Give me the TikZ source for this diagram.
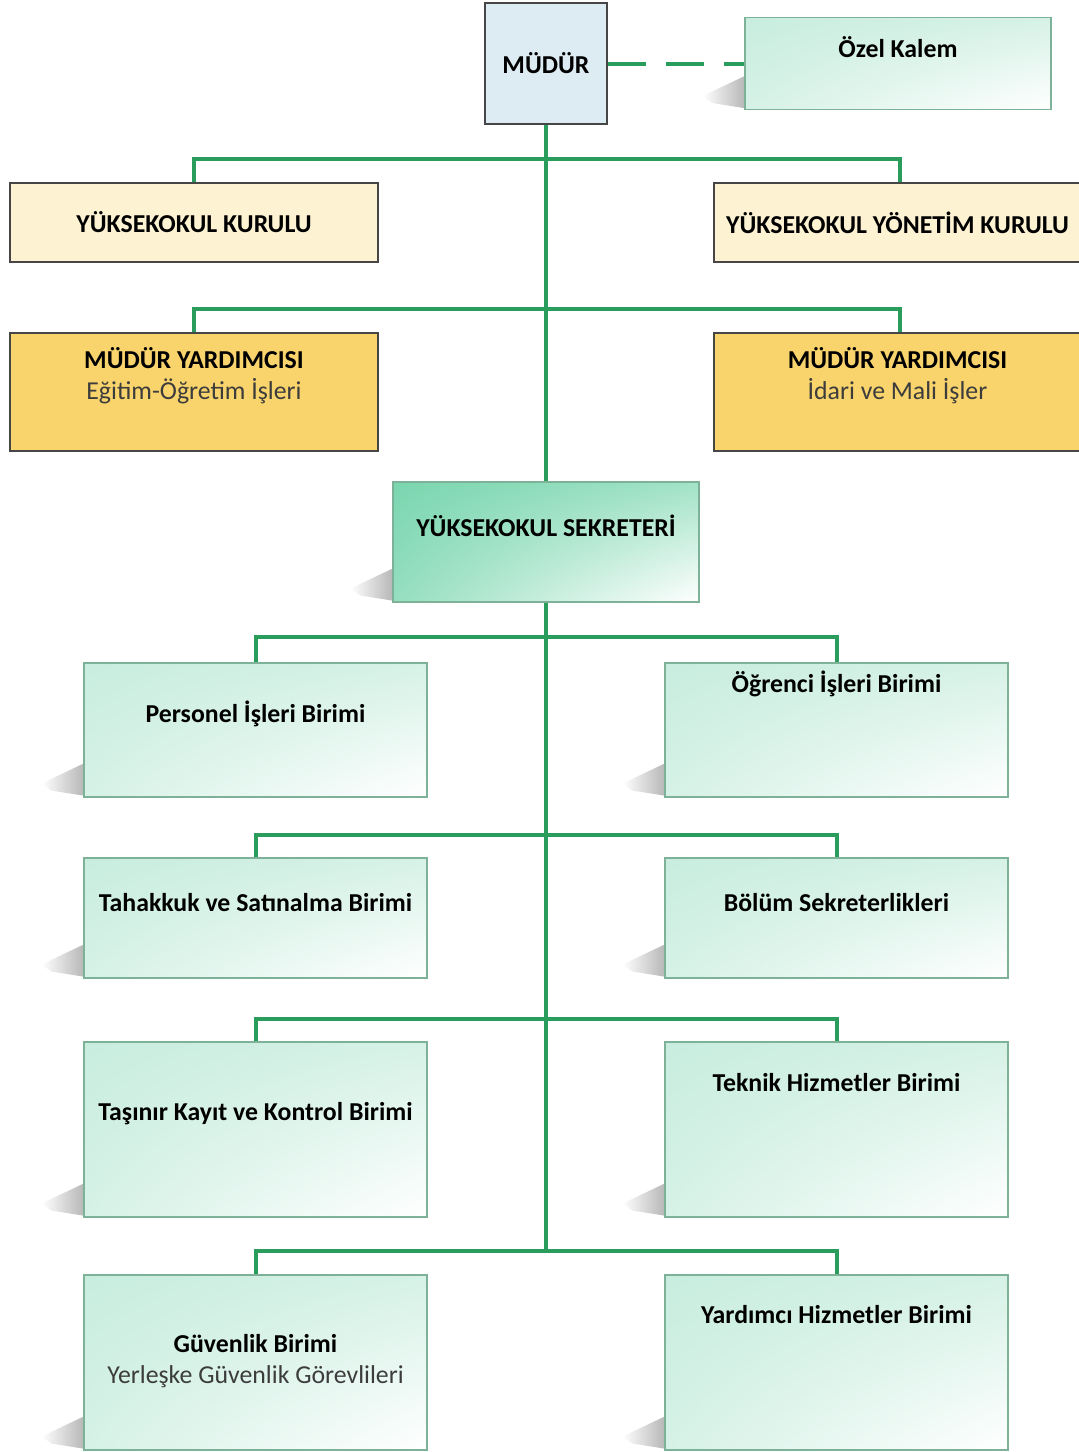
\documentclass[tikz,border=0pt]{standalone}
\usepackage{fontspec}
\setmainfont{Carlito}
\usepackage{tikz}
\usetikzlibrary{backgrounds, calc, positioning, shadings}
\definecolor{linkgreen}{RGB}{42,157,92}
\definecolor{boxline}{RGB}{70,70,70}
\definecolor{chiefblue}{RGB}{221,235,243}
\definecolor{boardcream}{RGB}{253,242,210}
\definecolor{deputygold}{RGB}{249,211,107}
\definecolor{unitgreen}{RGB}{200,237,222}
\definecolor{unitline}{RGB}{125,178,152}
\definecolor{secgreen}{RGB}{122,214,175}
\definecolor{subgray}{RGB}{60,60,60}

\begin{document}
\begin{tikzpicture}[x=0.5pt, y=-0.5pt,
  chief/.style={draw=boxline, fill=chiefblue, line width=0.6pt, minimum width=61pt, minimum height=60.5pt},
  board/.style={draw=boxline, fill=boardcream, line width=0.6pt, minimum width=184pt, minimum height=39.5pt},
  deputy/.style={draw=boxline, fill=deputygold, line width=0.6pt, minimum width=184pt, minimum height=59pt},
  unit/.style={draw=unitline, line width=0.6pt, upper left=unitgreen, upper right=unitgreen!75!white,
    lower left=unitgreen!75!white, lower right=white, minimum width=171.5pt},
  txt/.style={font=\fontsize{12.9}{15.5}\selectfont\bfseries, align=center, inner sep=0pt},
  link/.style={draw=linkgreen, line width=2pt},
]
\useasboundingbox (0,0) rectangle (1079,1452);

% top
\node (mudur) [chief, txt] at (546,63.5) {MÜDÜR};
\node (ozel) [unit, minimum width=153pt, minimum height=46pt] at (898,63.5) {};
\node (ozel-t) [txt] at ([yshift=-15pt]ozel.north) {Özel Kalem};

% boards
\node (ykk) [board] at (194,222.5) {};
\node (ykk-t) [txt] at (ykk) {YÜKSEKOKUL KURULU};
\node (yyk) [board, minimum width=185.5pt] at (899.5,222.5) {};
\node (yyk-t) [txt] at ([xshift=-1pt]yyk.center) {YÜKSEKOKUL YÖNETİM KURULU};

% deputies
\node (myd1) [deputy] at (194,392) {};
\node (myd1-t) [txt] at ([yshift=-21.5pt]myd1.north) {MÜDÜR YARDIMCISI\\{\mdseries\color{subgray}Eğitim-Öğretim İşleri}};
\node (myd2) [deputy, minimum width=185.5pt] at (899.5,392) {};
\node (myd2-t) [txt] at ([yshift=-21.5pt,xshift=-1pt]myd2.north) {MÜDÜR YARDIMCISI\\{\mdseries\color{subgray}İdari ve Mali İşler}};

% secretary
\node (sek) [unit, upper left=secgreen, upper right=secgreen!70!white, lower left=secgreen!80!white,
  lower right=white, minimum width=153pt, minimum height=60pt] at (546,542) {};
\node (sek-t) [txt] at ([yshift=-22pt]sek.north) {YÜKSEKOKUL SEKRETERİ};

% units
\node (pib) [unit, minimum height=67pt] at (255.5,730) {};
\node (pib-t) [txt] at ([yshift=-25.5pt]pib.north) {Personel İşleri Birimi};
\node (oib) [unit, minimum height=67pt] at (836.5,730) {};
\node (oib-t) [txt] at ([yshift=-10.5pt]oib.north) {Öğrenci İşleri Birimi};

\node (tsb) [unit, minimum height=60pt] at (255.5,918) {};
\node (tsb-t) [txt] at ([yshift=-22.5pt]tsb.north) {Tahakkuk ve Satınalma Birimi};
\node (bs) [unit, minimum height=60pt] at (836.5,918) {};
\node (bs-t) [txt] at ([yshift=-22.5pt]bs.north) {Bölüm Sekreterlikleri};

\node (tkk) [unit, minimum height=87.5pt] at (255.5,1129.5) {};
\node (tkk-t) [txt] at ([yshift=-36pt]tkk.north) {Taşınır Kayıt ve Kontrol Birimi};
\node (thb) [unit, minimum height=87.5pt] at (836.5,1129.5) {};
\node (thb-t) [txt] at ([yshift=-20.5pt]thb.north) {Teknik Hizmetler Birimi};

\node (gb) [unit, minimum height=87.5pt] at (255.5,1362.5) {};
\node (gb-t) [txt] at ([yshift=-43.5pt]gb.north) {Güvenlik Birimi\\{\mdseries\color{subgray}Yerleşke Güvenlik Görevlileri}};
\node (yhb) [unit, minimum height=87.5pt] at (836.5,1362.5) {};
\node (yhb-t) [txt] at ([yshift=-20pt]yhb.north) {Yardımcı Hizmetler Birimi};

% shadows
\begin{scope}[on background layer]
\foreach \u in {ozel,sek,pib,oib,tsb,bs,tkk,thb,gb,yhb}
  \shade[left color=white, right color=black!28]
    ($(\u.south west)+(0,-34)$) -- ($(\u.south west)+(0,-2)$)
    -- ($(\u.south west)+(-32,-7)$) -- ($(\u.south west)+(-42,-14)$) -- cycle;
\end{scope}

% lines
\coordinate (trunkend) at (546,1252);
\draw[link, dash pattern=on 19pt off 10pt] (mudur) -- (ozel);
\draw[link] (mudur) -- (sek);
\draw[link] (sek) -- (trunkend);
\draw[link] (ykk.north) -- ++(0,-23) -| (yyk.north);
\draw[link] (myd1.north) -- ++(0,-23) -| (myd2.north);
\draw[link] (pib.north) -- ++(0,-25) -| (oib.north);
\draw[link] (tsb.north) -- ++(0,-22) -| (bs.north);
\draw[link] (tkk.north) -- ++(0,-22) -| (thb.north);
\draw[link] (gb.north) -- ++(0,-23) -| (yhb.north);
\end{tikzpicture}
\end{document}
